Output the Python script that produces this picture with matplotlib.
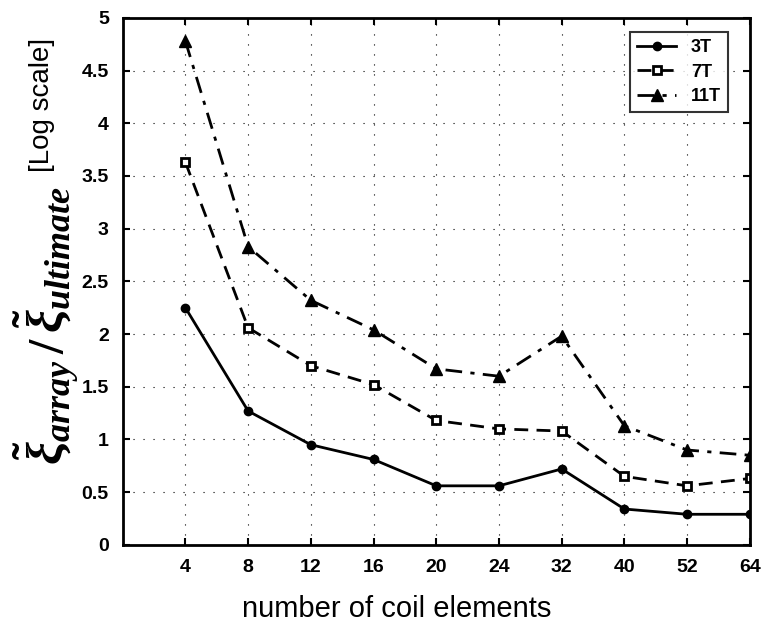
import matplotlib
matplotlib.use('Agg')
import matplotlib.pyplot as plt

# coil element counts (categorical x axis)
elements = ['4', '8', '12', '16', '20', '24', '32', '40', '52', '64']

# ratio values
t3 = [2.25, 1.27, 0.95, 0.81, 0.56, 0.56, 0.72, 0.34, 0.29, 0.29]
t7 = [3.63, 2.06, 1.70, 1.52, 1.18, 1.10, 1.08, 0.65, 0.56, 0.63]
t11 = [4.78, 2.83, 2.32, 2.04, 1.67, 1.60, 1.98, 1.13, 0.90, 0.85]

plt.rcParams['font.family'] = ['Liberation Sans', 'DejaVu Sans']
plt.rcParams['font.weight'] = 'bold'
plt.rcParams['mathtext.fontset'] = 'custom'
plt.rcParams['mathtext.it'] = 'Liberation Serif:italic:bold'
plt.rcParams['mathtext.rm'] = 'Liberation Serif:bold'

fig = plt.figure(figsize=(7.62, 6.38), dpi=100)
ax = fig.add_axes([0.161, 0.146, 0.823, 0.826])

x = list(range(1, len(elements) + 1))

ax.plot(x, t3, color='k', linestyle='-', linewidth=2, marker='o', markersize=6, label='3T')
ax.plot(x, t7, color='k', linestyle='--', linewidth=2, marker='s', markersize=6,
        markerfacecolor='white', markeredgewidth=2, label='7T', dashes=(5, 3))
ax.plot(x, t11, color='k', linestyle='-.', linewidth=2, marker='^', markersize=8,
        label='11T', dashes=(6, 3, 1.5, 3))

ax.set_xlim(0, 10)
ax.set_ylim(0, 5)
ax.set_xticks(x)
ax.set_xticklabels(elements)
ax.set_yticks([0, 0.5, 1, 1.5, 2, 2.5, 3, 3.5, 4, 4.5, 5])
ax.set_yticklabels(['0', '0.5', '1', '1.5', '2', '2.5', '3', '3.5', '4', '4.5', '5'])
ax.tick_params(direction='in', length=5, width=1.5, labelsize=14, pad=10,
               top=True, right=True)
for s in ax.spines.values():
    s.set_linewidth(2)

ax.grid(True, linestyle=(0, (1, 8)), color='k', linewidth=0.8)

leg = ax.legend(loc='upper right', fontsize=13, fancybox=False, edgecolor='k',
                handlelength=2.2, borderpad=0.4, labelspacing=0.4,
                bbox_to_anchor=(0.98, 0.99))
leg.get_frame().set_linewidth(1.5)

fig.text(0.52, 0.045, 'number of coil elements', fontsize=21, fontweight='normal',
         ha='center', va='center')
fig.text(0.055, 0.835, '[Log scale]', fontsize=20, fontweight='normal',
         rotation=90, ha='center', va='center')
fig.text(0.06, 0.49, r'$\tilde{\xi}_{array}\,/\,\tilde{\xi}_{ultimate}$',
         fontsize=37, rotation=90, ha='center', va='center')

fig.savefig('out.png', dpi=100)
